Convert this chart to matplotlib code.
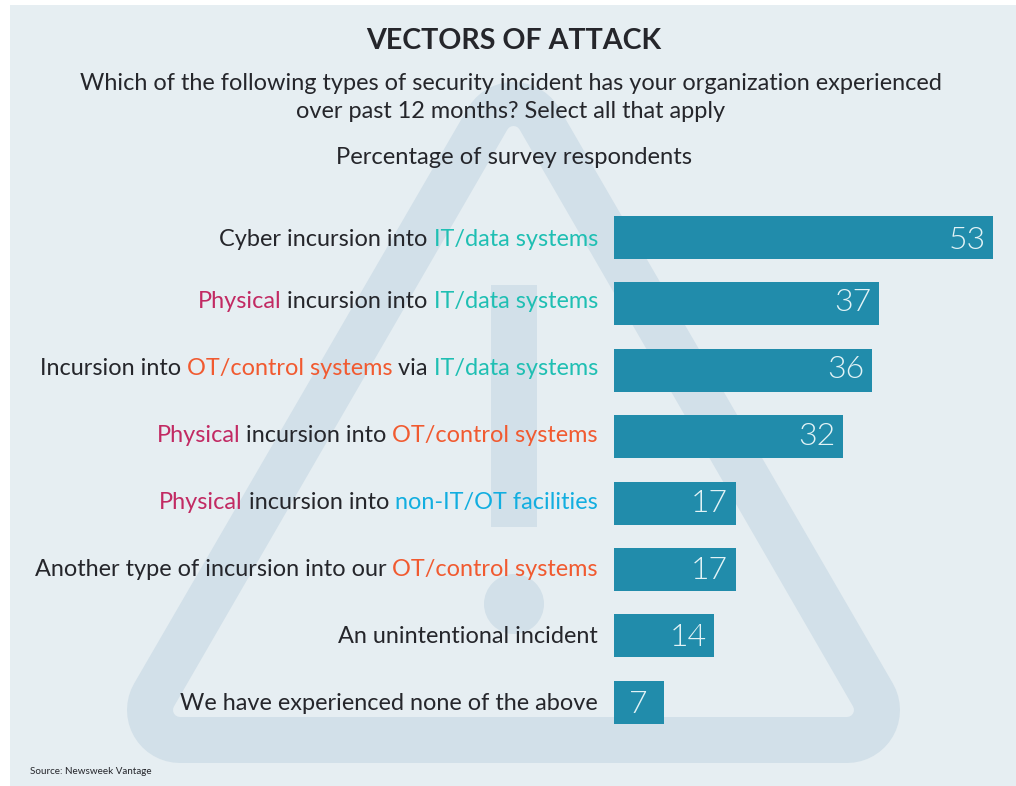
#!/usr/bin/env python3
"""Vectors of attack: horizontal bars with part-coloured labels over a warning sign."""

import matplotlib
matplotlib.use("Agg")
import matplotlib.pyplot as plt
from matplotlib.patches import Circle, Polygon, Rectangle

label_parts = [
    ["Cyber incursion into ", "IT/data systems"],
    ["Physical", " incursion into ", "IT/data systems"],
    ["Incursion into ", "OT/control systems", " via ", "IT/data systems"],
    ["Physical", " incursion into ", "OT/control systems"],
    ["Physical", " incursion into ", "non-IT/OT facilities"],
    ["Another type of incursion into our ", "OT/control systems"],
    ["An unintentional incident"],
    ["We have experienced none of the above"],
]
values = [53, 37, 36, 32, 17, 17, 14, 7]

title = "VECTORS OF ATTACK"
question = ("Which of the following types of security incident has your organization experienced\n"
            "over past 12 months? Select all that apply")
unit_note = "Percentage of survey respondents"
source = "Source: Newsweek Vantage"

W, H = 1016, 786
DPI = 100
BG = "#e6eef2"
SIGN = "#d2e0e9"
BAR = "#218cab"
DARK = "#25262b"
NUMBER = "#e2f3f6"
term_colors = {
    "IT/data systems": "#1fbfb3",
    "Physical": "#c22a63",
    "OT/control systems": "#f15a30",
    "non-IT/OT facilities": "#12aee0",
}
FONT = "Lato"
# text rows in the original do not sit quite on the bar centres
TEXT_BASELINE_PX = [246, 308, 375, 442, 509, 576, 643, 710]


def px(n):
    return n * 72 / DPI


def main():
    fig = plt.figure(figsize=(W / DPI, H / DPI), dpi=DPI, facecolor="white")

    # backdrop panel and warning sign, in image pixels
    bg = fig.add_axes([0, 0, 1, 1])
    bg.set_xlim(0, W)
    bg.set_ylim(H, 0)
    bg.axis("off")
    bg.add_patch(Rectangle((10, 5), W - 10, H - 5, fc=BG, ec="none"))
    corners = [(180, 710), (847, 710), (513.5, 135)]
    bg.add_patch(Polygon(corners, fc=SIGN, ec=SIGN, lw=px(106), joinstyle="round"))
    inner = [(180, 710), (847, 710), (513.5, 133)]
    bg.add_patch(Polygon(inner, fc=BG, ec=BG, lw=px(14), joinstyle="round"))
    bg.add_patch(Rectangle((491, 285), 46, 242, fc=SIGN, ec="none"))
    bg.add_patch(Circle((514, 604), 30, fc=SIGN, ec="none"))

    # bars: 7.16 px per percentage point, rows 66.4 px apart
    ax = fig.add_axes([614 / W, 0, (W - 614) / W, 1])
    ax.patch.set_alpha(0)
    ax.set_xlim(0, (W - 614) / 7.16)
    ax.set_ylim((H - 237.5) / 66.4, -237.5 / 66.4)
    ax.axis("off")
    rows = list(range(len(values)))
    ax.barh(rows, values, height=0.648, color=BAR)

    renderer = fig.canvas.get_renderer()

    def width(s, size):
        t = fig.text(0, 0, s + "|", fontsize=size, family=FONT)
        w = t.get_window_extent(renderer).width
        t.set_text("|")
        w -= t.get_window_extent(renderer).width
        t.remove()
        return w

    label_size = 16.95
    for row, parts, val, base in zip(rows, label_parts, values, TEXT_BASELINE_PX):
        x0 = ax.transData.transform((0, row))[0]
        x_end = ax.transData.transform((val, row))[0]
        y = H - base
        right = x0 - 16
        full = "".join(parts)
        start = right - width(full, label_size)
        prefix = ""
        for part in parts:
            fig.text(start + width(prefix, label_size), y, part, transform=None,
                     fontsize=label_size, family=FONT, va="baseline", ha="left",
                     color=term_colors.get(part, DARK))
            prefix += part
        fig.text(x_end - 26, y - 3, str(val), transform=None, ha="center", va="baseline",
                 fontsize=23, family=FONT, fontweight=300, color=NUMBER)

    fig.text(514 / W, 1 - 41 / H, title, ha="center", va="center", fontsize=20.6,
             family=FONT, fontweight="bold", color=DARK)
    fig.text(511 / W, 1 - 97.5 / H, question, ha="center", va="center", fontsize=16.95,
             family=FONT, color=DARK, linespacing=1.44)
    fig.text(514 / W, 1 - 157 / H, unit_note, ha="center", va="center", fontsize=17.1,
             family=FONT, color=DARK)
    fig.text(30 / W, 1 - 771 / H, source, ha="left", va="center", fontsize=7.1,
             family=FONT, color=DARK)

    fig.savefig("out.png", dpi=DPI, facecolor="white")


if __name__ == "__main__":
    main()
